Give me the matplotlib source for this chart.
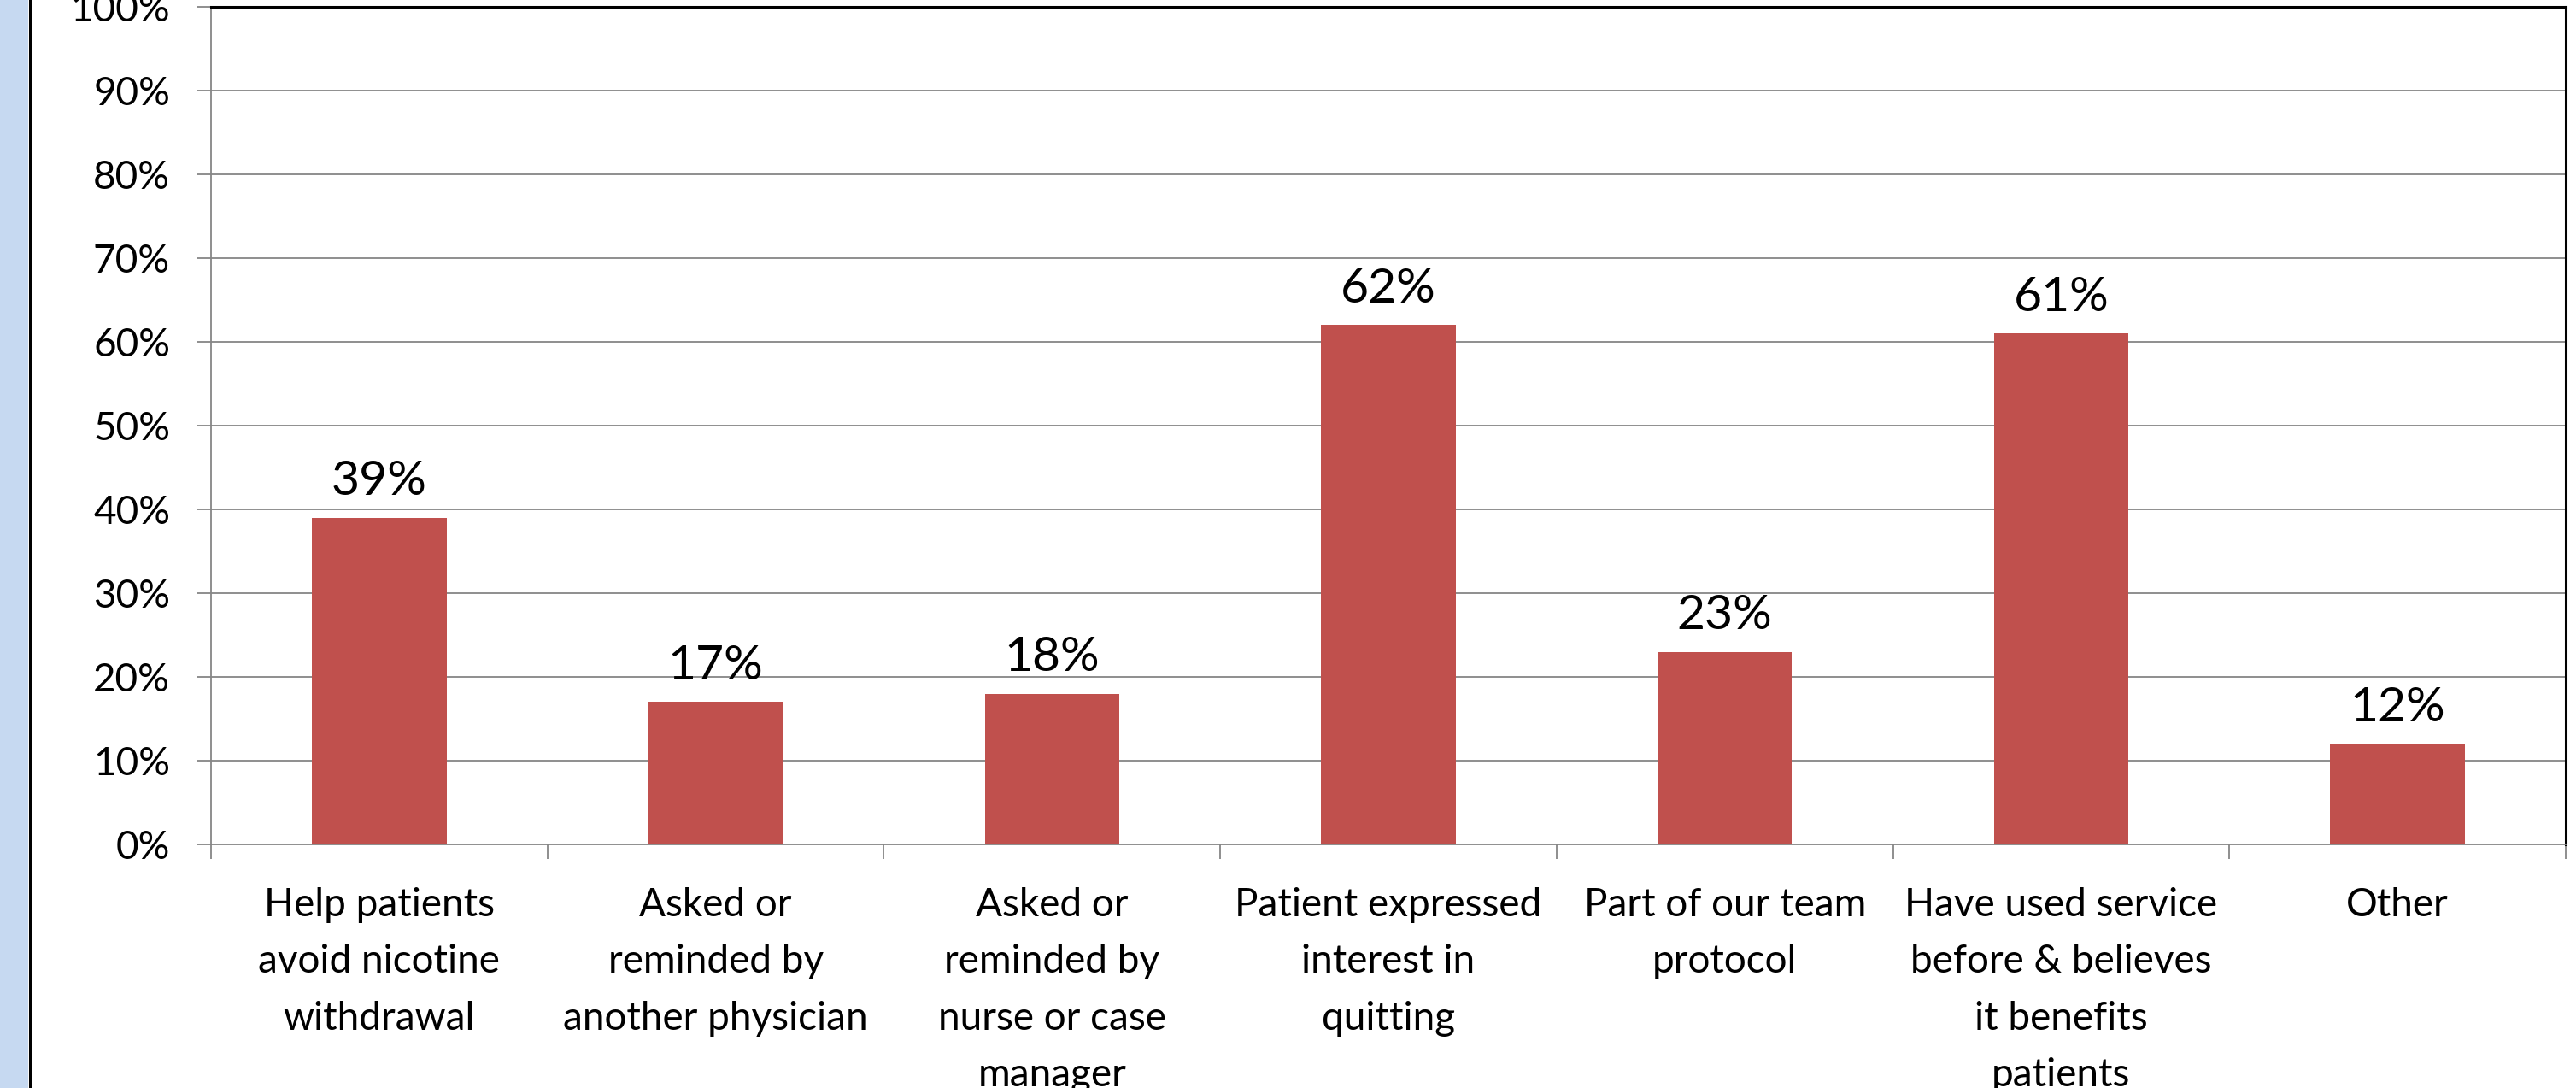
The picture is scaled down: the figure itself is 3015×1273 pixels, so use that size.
import matplotlib.pyplot as plt
from matplotlib.patches import Rectangle
from matplotlib.lines import Line2D
from matplotlib.ticker import MultipleLocator, PercentFormatter, FixedLocator

# ---------------------------------------------------------------
# Chart data
# ---------------------------------------------------------------

reasons = [
    "Help patients\navoid nicotine\nwithdrawal",
    "Asked or\nreminded by\nanother physician",
    "Asked or\nreminded by\nnurse or case\nmanager",
    "Patient expressed\ninterest in\nquitting",
    "Part of our team\nprotocol",
    "Have used service\nbefore & believes\nit benefits\npatients",
    "Other",
]

percent_values = [39, 17, 18, 62, 23, 61, 12]

# ---------------------------------------------------------------
# Styling
# ---------------------------------------------------------------

BAR_COLOR = "#C0504D"
GRID_COLOR = "#868686"
SIDE_BAND_COLOR = "#C6D9F1"

plt.rcParams["font.family"] = ["Lato", "DejaVu Sans"]


# ---------------------------------------------------------------
# Function Name : create_chart()
# Description   : Draws the reasons bar chart with percentage
#                 labels above every bar
# Input         : None
# Output        : Figure
# ---------------------------------------------------------------

def create_chart():

    fig = plt.figure(figsize=(30.15, 12.73), dpi=100)

    # light blue band on the left edge with a dark divider
    fig.patches.append(Rectangle((0, 0), 33 / 3015, 1, transform=fig.transFigure,
                                 facecolor=SIDE_BAND_COLOR, edgecolor="none", zorder=0))
    fig.lines.append(Line2D([34.5 / 3015, 34.5 / 3015], [0, 1], transform=fig.transFigure,
                            color="black", linewidth=2.2))

    ax = fig.add_axes([247 / 3015, 285 / 1273, 2756 / 3015, 980 / 1273])

    positions = list(range(len(reasons)))
    bars = ax.bar(positions, percent_values, width=0.4, color=BAR_COLOR, zorder=3)

    ax.bar_label(bars, labels=[f"{v}%" for v in percent_values],
                 padding=12, fontsize=41, color="black")

    # -----------------------------------------------------------
    # Axes, grid and ticks
    # -----------------------------------------------------------

    ax.set_xlim(-0.5, len(reasons) - 0.5)
    ax.set_ylim(0, 100)

    ax.yaxis.set_major_locator(MultipleLocator(10))
    ax.yaxis.set_major_formatter(PercentFormatter(decimals=0))
    ax.grid(axis="y", color=GRID_COLOR, linewidth=1.3, zorder=0)
    ax.set_axisbelow(True)

    ax.set_xticks(positions)
    ax.set_xticklabels(reasons, fontsize=33, linespacing=1.72)
    ax.xaxis.set_minor_locator(FixedLocator([p - 0.5 for p in range(len(reasons) + 1)]))

    ax.tick_params(axis="x", which="major", length=0, pad=36)
    ax.tick_params(axis="x", which="minor", length=12.5, width=1.3,
                   color=GRID_COLOR, direction="out")
    ax.tick_params(axis="y", length=12.5, width=1.3, color=GRID_COLOR,
                   labelsize=33, pad=22)

    for side in ("left", "bottom"):
        ax.spines[side].set_color(GRID_COLOR)
        ax.spines[side].set_linewidth(1.3)
    for side in ("top", "right"):
        ax.spines[side].set_color("black")
        ax.spines[side].set_linewidth(2.2)

    return fig


# ---------------------------------------------------------------
# Function Name : main()
# Description   : Entry point function of application
# Input         : None
# Output        : None
# ---------------------------------------------------------------

def main():

    fig = create_chart()
    fig.savefig("out.png", dpi=100)


if __name__ == "__main__":
    main()
